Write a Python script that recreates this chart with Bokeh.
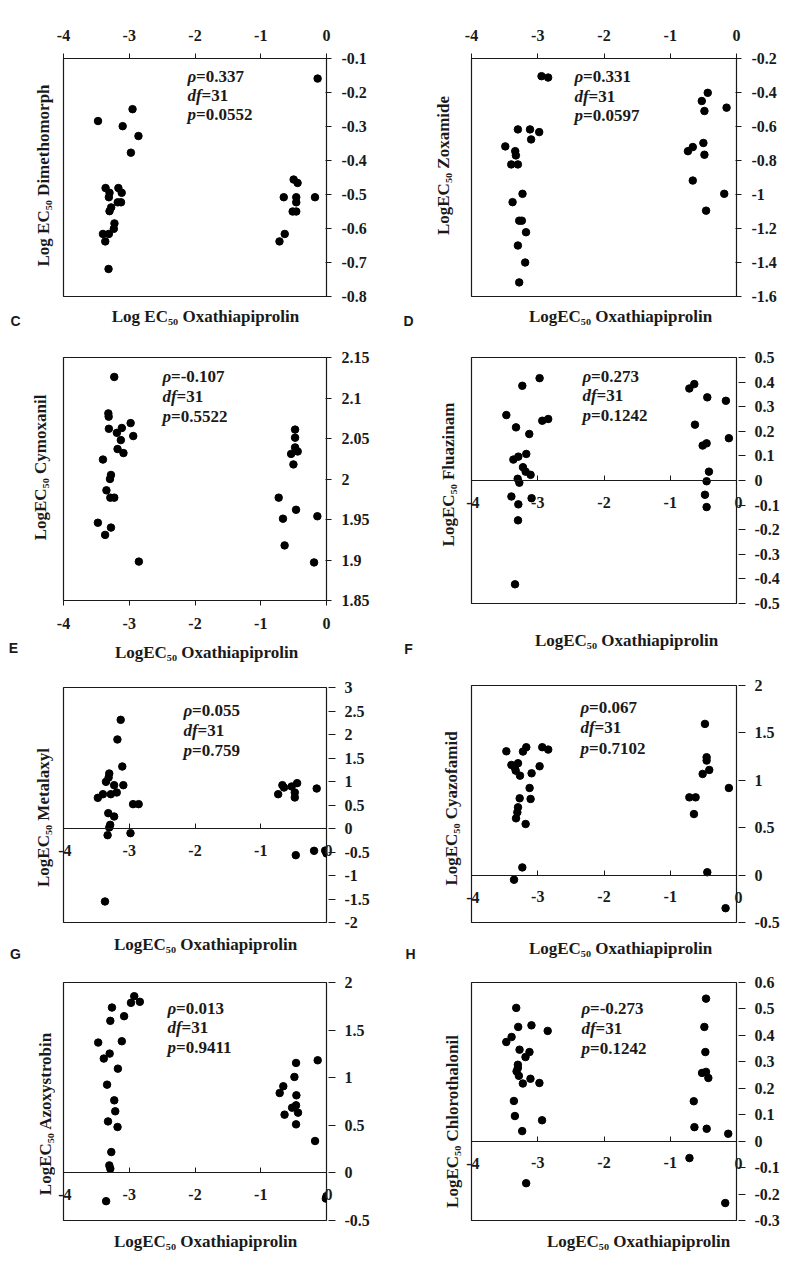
import math
import json
from bokeh.plotting import figure
from bokeh.models import Range1d, FixedTicker, Label, CustomJSTickFormatter, ColumnDataSource, LinearAxis
from bokeh.layouts import row, column
from bokeh.embed import file_html
from bokeh.resources import INLINE

# ---------------- data ----------------
X_TICKS = [-4, -3, -2, -1, 0]
STAT_NAMES = ["ρ", "df", "p"]

A_x = [-0.135, -2.95, -3.475, -3.10, -2.86, -2.975, -3.36, -3.165, -3.30, -3.115, -3.31, -3.175,
       -3.125, -3.275, -3.30, -3.225, -3.235, -3.40, -3.31, -3.365, -3.315, -0.65, -0.50, -0.44,
       -0.46, -0.46, -0.515, -0.46, -0.175, -0.635, -0.715]
A_y = [-0.159, -0.249, -0.284, -0.299, -0.328, -0.377, -0.481, -0.481, -0.495, -0.495, -0.508, -0.523,
       -0.523, -0.538, -0.549, -0.585, -0.601, -0.616, -0.616, -0.638, -0.719, -0.508, -0.456, -0.466,
       -0.508, -0.523, -0.55, -0.55, -0.508, -0.616, -0.638]
A_yticks = [-0.8, -0.7, -0.6, -0.5, -0.4, -0.3, -0.2, -0.1]
A_stats = ["=0.337", "=31", "=0.0552"]
A_ylabel = "Log EC₅₀ Dimethomorph"
A_xlabel = "Log EC₅₀ Oxathiapiprolin"

B_x = [-2.943, -2.843, -3.30, -3.117, -3.10, -2.978, -3.49, -3.34, -3.33, -3.40, -3.30, -3.23, -3.38,
       -3.28, -3.24, -3.177, -3.30, -3.19, -3.28, -0.434, -0.524, -0.484, -0.15, -0.50, -0.66, -0.733,
       -0.484, -0.66, -0.185, -0.459]
B_y = [-0.304, -0.312, -0.617, -0.617, -0.676, -0.633, -0.717, -0.745, -0.77, -0.823, -0.823, -0.996,
       -1.045, -1.154, -1.154, -1.222, -1.30, -1.40, -1.517, -0.402, -0.45, -0.509, -0.489, -0.697,
       -0.721, -0.745, -0.766, -0.918, -0.996, -1.095]
B_yticks = [-1.6, -1.4, -1.2, -1.0, -0.8, -0.6, -0.4, -0.2]
B_stats = ["=0.331", "=31", "=0.0597"]
B_ylabel = "LogEC₅₀ Zoxamide"
B_xlabel = "LogEC₅₀ Oxathiapiprolin"

C_x = [-3.228, -3.318, -3.313, -3.31, -3.188, -3.113, -2.979, -2.939, -3.128, -3.178, -3.088, -3.40,
       -3.278, -3.293, -3.347, -3.288, -3.228, -3.477, -3.278, -3.367, -2.854, -0.478, -0.478, -0.478,
       -0.438, -0.538, -0.503, -0.727, -0.463, -0.662, -0.139, -0.637, -0.189]
C_y = [2.126, 2.081, 2.077, 2.062, 2.057, 2.063, 2.069, 2.053, 2.048, 2.037, 2.032, 2.024, 2.005, 2.000,
       1.986, 1.977, 1.977, 1.946, 1.940, 1.931, 1.898, 2.061, 2.051, 2.039, 2.034, 2.031, 2.018, 1.977,
       1.962, 1.951, 1.954, 1.918, 1.897]
C_yticks = [1.85, 1.9, 1.95, 2.0, 2.05, 2.1, 2.15]
C_stats = ["=-0.107", "=31", "=0.5522"]
C_ylabel = "LogEC₅₀ Cymoxanil"
C_xlabel = "LogEC₅₀ Oxathiapiprolin"

D_x = [-2.972, -3.233, -3.474, -2.932, -2.842, -3.328, -3.128, -3.173, -3.293, -3.368, -3.223, -3.183,
       -3.108, -3.303, -3.278, -3.398, -3.093, -3.293, -3.298, -3.343, -0.712, -0.637, -0.441, -0.16,
       -0.627, -0.511, -0.451, -0.115, -0.416, -0.451, -0.476, -0.451]
D_y = [0.416, 0.385, 0.266, 0.243, 0.25, 0.216, 0.189, 0.108, 0.097, 0.085, 0.054, 0.036, 0.023, 0.007,
       -0.009, -0.065, -0.072, -0.097, -0.162, -0.422, 0.374, 0.392, 0.338, 0.324, 0.227, 0.142, 0.151,
       0.172, 0.036, -0.003, -0.058, -0.108]
D_yticks = [-0.5, -0.4, -0.3, -0.2, -0.1, 0.0, 0.1, 0.2, 0.3, 0.4, 0.5]
D_stats = ["=0.273", "=31", "=0.1242"]
D_ylabel = "LogEC₅₀ Fluazinam"
D_xlabel = "LogEC₅₀ Oxathiapiprolin"

E_x = [-3.130, -3.18, -3.106, -3.304, -3.314, -3.354, -3.23, -3.09, -3.19, -3.28, -3.40, -3.478, -2.942,
       -2.857, -3.319, -3.23, -3.29, -3.304, -3.329, -2.981, -3.369, -0.735, -0.671, -0.646, -0.53,
       -0.447, -0.482, -0.482, -0.149, -0.467, -0.189, -0.02, 0.0]
E_y = [2.312, 1.894, 1.319, 1.17, 1.085, 0.993, 0.922, 0.922, 0.766, 0.73, 0.73, 0.652, 0.518, 0.518,
       0.326, 0.255, 0.078, 0.021, -0.142, -0.099, -1.553, 0.73, 0.922, 0.872, 0.894, 0.965, 0.766, 0.66,
       0.851, -0.567, -0.475, -0.47, -0.53]
E_yticks = [-2, -1.5, -1, -0.5, 0, 0.5, 1, 1.5, 2, 2.5, 3]
E_stats = ["=0.055", "=31", "=0.759"]
E_ylabel = "LogEC₅₀ Metalaxyl"
E_xlabel = "LogEC₅₀ Oxathiapiprolin"

F_x = [-3.474, -3.398, -3.348, -3.298, -3.333, -3.268, -3.223, -3.173, -2.932, -2.842, -2.972, -3.093,
       -3.123, -3.273, -3.108, -3.298, -3.308, -3.328, -3.183, -3.233, -3.358, -0.476, -0.451, -0.451,
       -0.511, -0.411, -0.712, -0.617, -0.642, -0.115, -0.441, -0.165]
F_y = [1.306, 1.162, 1.137, 1.18, 1.102, 1.049, 1.303, 1.349, 1.349, 1.324, 1.148, 1.074, 0.919, 0.81,
       0.803, 0.715, 0.662, 0.599, 0.539, 0.081, -0.049, 1.595, 1.243, 1.208, 1.067, 1.109, 0.82, 0.82,
       0.644, 0.919, 0.03, -0.349]
F_yticks = [-0.5, 0, 0.5, 1, 1.5, 2]
F_stats = ["=0.067", "=31", "=0.7102"]
F_ylabel = "LogEC₅₀ Cyazofamid"
F_xlabel = "LogEC₅₀ Oxathiapiprolin"

G_x = [-2.924, -2.974, -2.839, -3.263, -3.078, -3.288, -3.472, -3.113, -3.298, -3.387, -3.173, -3.337,
       -3.228, -3.213, -3.323, -3.178, -3.273, -3.303, -3.288, -3.352, -0.134, -0.463, -0.488, -0.657,
       -0.712, -0.458, -0.463, -0.523, -0.433, -0.638, -0.463, -0.174, 0.0, -0.01]
G_y = [1.856, 1.786, 1.797, 1.737, 1.646, 1.597, 1.369, 1.383, 1.253, 1.201, 1.095, 0.927, 0.762, 0.647,
       0.541, 0.482, 0.219, 0.079, 0.044, -0.297, 1.183, 1.155, 1.008, 0.910, 0.839, 0.815, 0.710, 0.685,
       0.633, 0.612, 0.510, 0.335, -0.244, -0.27]
G_yticks = [-0.5, 0, 0.5, 1, 1.5, 2]
G_stats = ["=0.013", "=31", "=0.9411"]
G_ylabel = "LogEC₅₀ Azoxystrobin"
G_xlabel = "LogEC₅₀ Oxathiapiprolin"

H_x = [-3.325, -3.295, -3.095, -2.85, -3.395, -3.475, -3.275, -3.125, -3.185, -3.30, -3.30, -3.32,
       -3.285, -3.11, -3.225, -2.975, -3.36, -3.345, -2.935, -3.235, -3.175, -0.46, -0.485, -0.47,
       -0.46, -0.52, -0.425, -0.645, -0.635, -0.45, -0.125, -0.71, -0.17]
H_y = [0.504, 0.432, 0.438, 0.417, 0.394, 0.375, 0.346, 0.337, 0.318, 0.289, 0.277, 0.264, 0.247, 0.236,
       0.218, 0.22, 0.152, 0.095, 0.079, 0.038, -0.159, 0.539, 0.432, 0.337, 0.262, 0.258, 0.239, 0.151,
       0.053, 0.047, 0.028, -0.064, -0.234]
H_yticks = [-0.3, -0.2, -0.1, 0, 0.1, 0.2, 0.3, 0.4, 0.5, 0.6]
H_stats = ["=-0.273", "=31", "=0.1242"]
H_ylabel = "LogEC₅₀ Chlorothalonil"
H_xlabel = "LogEC₅₀ Oxathiapiprolin"

PANEL_LETTERS = ["C", "D", "E", "F", "G", "H"]

# ---------------- layout / style (page pixel coordinates) ----------------
SERIF = "Liberation Serif"
SANS = "Liberation Sans"
INK = "#1a1a1a"
TOTAL_H = 1262

# canvas = (x, y, w, h); frame = (left, top, right, bottom); strip = box under the panel
GEOM = {
    "A": dict(canvas=(55, 0, 338, 306), frame=(62, 58, 328, 296), xaxis="above",
              stats=(186, [76, 95, 114]), strip=(55, 306, 393, 338), xl=(197, 316), yl=(43, 175)),
    "C": dict(canvas=(55, 338, 338, 300), frame=(58, 357, 326, 600), xaxis="below",
              stats=(157, [376, 396, 416]), strip=(55, 638, 393, 668), xl=(198, 652), yl=(40, 467)),
    "E": dict(canvas=(55, 668, 338, 265), frame=(62, 687, 330, 922), xaxis="zero",
              stats=(182, [710, 730, 750]), strip=(55, 933, 393, 962), xl=(197, 944), yl=(43, 817)),
    "G": dict(canvas=(55, 962, 338, 268), frame=(62, 982, 330, 1220), xaxis="zero",
              stats=(166, [1008, 1027, 1047]), strip=(55, 1230, 393, TOTAL_H), xl=(197, 1241), yl=(45, 1113)),
    "B": dict(canvas=(463, 0, 323, 306), frame=(470, 58, 736, 296), xaxis="above",
              stats=(573, [76, 96, 115]), strip=(463, 306, 786, 338), xl=(612, 316), yl=(443, 165)),
    "D": dict(canvas=(463, 338, 323, 288), frame=(470, 357, 736, 603), xaxis="zero",
              stats=(581, [376, 395, 415]), strip=(463, 626, 786, 668), xl=(618, 640), yl=(448, 474)),
    "F": dict(canvas=(463, 668, 323, 265), frame=(470, 685, 736, 922), xaxis="zero",
              stats=(579, [707, 727, 748]), strip=(463, 933, 786, 962), xl=(612, 948), yl=(451, 808)),
    "H": dict(canvas=(463, 962, 323, 268), frame=(470, 982, 737, 1220), xaxis="zero",
              stats=(580, [1008, 1028, 1048]), strip=(463, 1230, 786, TOTAL_H), xl=(630, 1241), yl=(452, 1121)),
}
SIDE_LEFT = (0, 0, 55, TOTAL_H)
SIDE_RIGHT = (393, 0, 463, TOTAL_H)
LETTER_POS = {"C": (15, 320), "E": (13, 647), "G": (15, 953),
              "D": (408, 320), "F": (408, 648), "H": (410, 953)}
STAT_OFFSETS = [8.5, 14, 8.5]
ZERO_LABEL_DROP = 22      # px: centre of the edge x tick labels below the y=0 axis line
ZERO_AXIS_STANDOFF = 16   # px: standoff of the inner x tick labels of the y=0 axis
ZERO_AXIS_SIZE = 6        # px taken by the small right axis that carries the x "0" label


def fmt_js():
    return "String(parseFloat(tick.toFixed(4)))"


def style_axis(ax, ticks, tick_in, tick_out, standoff, hide=None):
    ax.ticker = FixedTicker(ticks=ticks)
    if hide:
        cond = " || ".join(f"tick == {h}" for h in hide)
        ax.formatter = CustomJSTickFormatter(code=f"return ({cond}) ? '' : {fmt_js()};")
    else:
        ax.formatter = CustomJSTickFormatter(code=f"return {fmt_js()};")
    ax.major_label_text_font = SERIF
    ax.major_label_text_font_style = "bold"
    ax.major_label_text_font_size = "16px"
    ax.major_label_text_color = INK
    ax.major_tick_in = tick_in
    ax.major_tick_out = tick_out
    ax.major_tick_line_color = INK
    ax.major_tick_line_width = 1
    ax.minor_tick_line_color = None
    ax.axis_line_color = INK
    ax.axis_line_width = 1
    ax.major_label_standoff = standoff


def edge_label_axis(ypos, text, standoff):
    ax = LinearAxis(ticker=FixedTicker(ticks=[ypos]),
                    formatter=CustomJSTickFormatter(code=f"return {json.dumps(text)};"))
    ax.major_label_text_font = SERIF
    ax.major_label_text_font_style = "bold"
    ax.major_label_text_font_size = "16px"
    ax.major_label_text_color = INK
    ax.major_tick_in = 0
    ax.major_tick_out = 0
    ax.major_tick_line_color = None
    ax.minor_tick_line_color = None
    ax.axis_line_color = None
    ax.major_label_standoff = standoff
    return ax


def add_text(p, box, X, Y, text, size, font=SERIF, style="bold", align="center", angle=0.0):
    fl, ft, fr, fb = box
    p.add_layout(Label(x=X - fl, y=fb - Y, x_units="screen", y_units="screen", text=text,
                       text_font=font, text_font_size=size, text_font_style=style,
                       text_color=INK, text_align=align, text_baseline="middle", angle=angle))


def blank(box):
    x0, y0, x1, y1 = box
    p = figure(width=x1 - x0, height=y1 - y0, x_range=Range1d(0, 1), y_range=Range1d(0, 1),
               x_axis_location=None, y_axis_location=None, output_backend="svg",
               toolbar_location=None, min_border=0)
    p.grid.visible = False
    p.xgrid.visible = False
    p.ygrid.visible = False
    p.outline_line_color = None
    p.background_fill_color = "white"
    p.border_fill_color = "white"
    return p


def build(key, xs, ys, yticks, stats):
    g = GEOM[key]
    cx, cy, cw, ch = g["canvas"]
    fl, ft, fr, fb = g["frame"]
    loc = g["xaxis"]
    ymin, ymax = yticks[0], yticks[-1]
    p = figure(width=cw, height=ch,
               x_range=Range1d(X_TICKS[0], X_TICKS[-1]), y_range=Range1d(ymin, ymax),
               x_axis_location="above" if loc == "above" else "below",
               y_axis_location="right" if loc != "zero" else None,
               output_backend="svg", toolbar_location=None,
               min_border_left=fl - cx, min_border_right=cx + cw - fr,
               min_border_top=ft - cy, min_border_bottom=cy + ch - fb)
    p.grid.visible = False
    p.outline_line_color = INK
    p.outline_line_width = 1.2
    p.background_fill_color = "white"
    p.border_fill_color = "white"

    xa = p.xaxis[0]
    if loc == "zero":
        xa.fixed_location = 0
        style_axis(xa, X_TICKS, 5, 0, ZERO_AXIS_STANDOFF, hide=[X_TICKS[0], X_TICKS[-1]])
        # edge tick labels of the y=0 axis, drawn in the side panels so they are not clipped
        y_lab = 0 - ZERO_LABEL_DROP * (ymax - ymin) / (fb - ft)
        p.add_layout(edge_label_axis(y_lab, str(X_TICKS[0]), -8), "left")
        zero_ax = edge_label_axis(y_lab, str(X_TICKS[-1]), -2)
        ya = LinearAxis()
        style_axis(ya, yticks, 1 + ZERO_AXIS_SIZE, 0, 9)
        ya.axis_line_color = None
        p.add_layout(zero_ax, "right")
        p.add_layout(ya, "right")
    elif loc == "above":
        style_axis(xa, X_TICKS, 0, 5, 13)
        style_axis(p.yaxis[0], yticks, 1, 5, 10)
    else:
        style_axis(xa, X_TICKS, 0, 5, 12)
        style_axis(p.yaxis[0], yticks, 1, 5, 10)

    src = ColumnDataSource(dict(x=xs, y=ys))
    p.scatter("x", "y", source=src, size=7.5, fill_color="black", line_color="black")

    x0, lys = g["stats"]
    for name, val, off, ly in zip(STAT_NAMES, stats, STAT_OFFSETS, lys):
        add_text(p, g["frame"], x0, ly, name, "17px", style="bold italic", align="left")
        add_text(p, g["frame"], x0 + off, ly, val, "17px", style="bold", align="left")
    return p


def xlabel_strip(key, text):
    g = GEOM[key]
    s = blank(g["strip"])
    add_text(s, g["strip"], g["xl"][0], g["xl"][1], text, "17px")
    return s


def side_strip(box, keys, ylabels, letters):
    s = blank(box)
    for k, t in zip(keys, ylabels):
        X, Y = GEOM[k]["yl"]
        add_text(s, box, X, Y, t, "17px", angle=math.pi / 2)
    for t in letters:
        X, Y = LETTER_POS[t]
        add_text(s, box, X, Y, t, "14px", font=SANS, style="bold")
    return s


pA = build("A", A_x, A_y, A_yticks, A_stats)
pB = build("B", B_x, B_y, B_yticks, B_stats)
pC = build("C", C_x, C_y, C_yticks, C_stats)
pD = build("D", D_x, D_y, D_yticks, D_stats)
pE = build("E", E_x, E_y, E_yticks, E_stats)
pF = build("F", F_x, F_y, F_yticks, F_stats)
pG = build("G", G_x, G_y, G_yticks, G_stats)
pH = build("H", H_x, H_y, H_yticks, H_stats)

left_side = side_strip(SIDE_LEFT, ["A", "C", "E", "G"], [A_ylabel, C_ylabel, E_ylabel, G_ylabel],
                       PANEL_LETTERS[0::2])
right_side = side_strip(SIDE_RIGHT, ["B", "D", "F", "H"], [B_ylabel, D_ylabel, F_ylabel, H_ylabel],
                        PANEL_LETTERS[1::2])

left_col = column(pA, xlabel_strip("A", A_xlabel), pC, xlabel_strip("C", C_xlabel),
                  pE, xlabel_strip("E", E_xlabel), pG, xlabel_strip("G", G_xlabel), spacing=0)
right_col = column(pB, xlabel_strip("B", B_xlabel), pD, xlabel_strip("D", D_xlabel),
                   pF, xlabel_strip("F", F_xlabel), pH, xlabel_strip("H", H_xlabel), spacing=0)

layout = row(left_side, left_col, right_side, right_col, spacing=0)

open("out.html", "w").write(file_html(layout, INLINE, title="EC50 correlations"))
